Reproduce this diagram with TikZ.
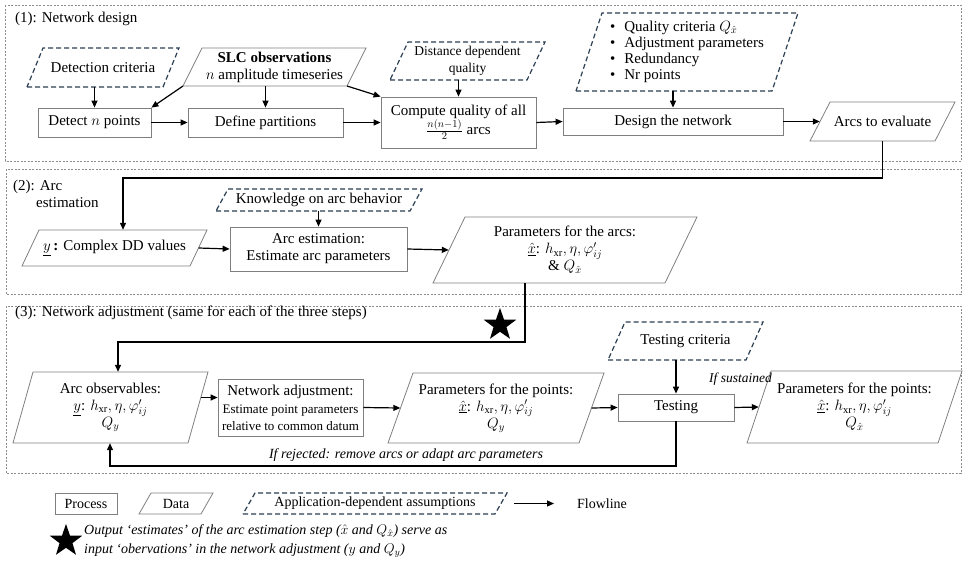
\documentclass[tikz,border=0pt]{standalone}
\usepackage{fix-cm}
\usepackage{fontspec}
\setmainfont{Liberation Serif}
\usetikzlibrary{arrows.meta,shapes.geometric}
\definecolor{dashblue}{HTML}{2B3F52}
\definecolor{boxgray}{HTML}{7F7F7F}
\definecolor{secgray}{HTML}{8C8C8C}
\tikzset{
  every node/.style={font=\fontsize{15}{17}\selectfont},
  procbox/.style={draw=boxgray,line width=0.8pt,inner sep=0pt,align=center},
  dataline/.style={draw=boxgray,line width=0.8pt},
  assumline/.style={draw=dashblue,line width=1.2pt,dash pattern=on 5pt off 3pt},
  secbox/.style={draw=secgray,line width=0.6pt,dash pattern=on 2pt off 1.5pt},
  flow/.style={-{Triangle[length=7pt,width=6pt]},line width=1.2pt},
  legtext/.style={font=\fontsize{14}{16}\selectfont},
  notetext/.style={font=\fontsize{14}{19}\selectfont\itshape},
  bigstar/.style={star,star points=5,star point ratio=2.5,fill=black,inner sep=0pt,minimum size=34pt},
}
\newcommand\mathlines{\fontsize{15}{20.5}\selectfont}
% #1 outline style, #2 name, #3 cx, #4 cy, #5 full width, #6 height, #7 slant, #8 text
\newcommand\paranode[8]{%
  \node[minimum width={#5-#7}, minimum height=#6, inner sep=0pt, align=center] (#2) at (#3,#4) {#8};
  \draw[#1] (#3-#5/2,#4+#6/2) coordinate (#2-bl) -- (#3+#5/2-#7,#4+#6/2) coordinate (#2-br)
    -- (#3+#5/2,#4-#6/2) coordinate (#2-tr) -- (#3-#5/2+#7,#4-#6/2) coordinate (#2-tl) -- cycle;
}
\begin{document}
\begin{tikzpicture}[x=1pt,y=-1pt]
\useasboundingbox (0,0) rectangle (966,573);
% section frames
\draw[secbox] (5,5) rectangle (961,161);
\draw[secbox] (6,169) rectangle (961,294);
\draw[secbox] (6,306) rectangle (961,473);
\node[anchor=west,inner sep=0pt] (t1) at (15,19) {(1): Network design};
\node[anchor=north west,inner sep=0pt,align=left] (t2) at (13,180) {(2): Arc\\\hspace*{23pt}estimation};
\node[anchor=west,inner sep=0pt] (t3) at (15,313) {(3): Network adjustment (same for each of the three steps)};

% ---------- section 1
\paranode{assumline}{detcrit}{103}{67.5}{152}{39}{16}{Detection criteria}
\paranode{dataline}{slc}{274.5}{67}{183}{38}{19}{\textbf{SLC observations}\\$n$ amplitude timeseries}
\paranode{assumline}{dist}{467.5}{61}{155}{38}{18}{\fontsize{13.5}{15}\selectfont Distance dependent\\\fontsize{13.5}{15}\selectfont quality}
\paranode{assumline}{qual}{687}{52}{222}{78}{26}{\begin{tabular}{@{}l@{\hspace{9pt}}l@{}}\textbullet & Quality criteria $Q_{\hat{x}}$\\[-1pt]\textbullet & Adjustment parameters\\[-1pt]\textbullet & Redundancy\\[-1pt]\textbullet & Nr points\end{tabular}}
\node[procbox,minimum width=113,minimum height=29] (detect) at (94.5,122.5) {Detect $n$ points};
\node[procbox,minimum width=155,minimum height=29] (define) at (265.5,122.5) {Define partitions};
\node[procbox,minimum width=155,minimum height=51] (compute) at (458.5,122.5) {Compute quality of all\\$\frac{n(n-1)}{2}$ arcs};
\node[procbox,minimum width=220,minimum height=27] (design) at (673,121.5) {Design the network};
\paranode{dataline}{arcs}{882.5}{121.5}{145}{39}{20}{Arcs to evaluate}

\draw[flow] (detcrit.south -| detect.north) -- (detect.north);
\draw[flow] (slc-bl) -- (detect.north east);
\draw[flow] (slc.south -| define.north) -- (define.north);
\draw[flow] (slc-br) -- (compute.north west);
\draw[flow] (dist.south -| compute.north) -- (compute.north);
\draw[flow] (qual.south -| design.north) -- (design.north);
\draw[flow] (detect.east) -- (define.west);
\draw[flow] (define.east) -- (compute.west);
\draw[flow] (compute.east) -- (design.west);
\draw[flow] (design.east) -- (arcs.west);

% ---------- section 2
\paranode{dataline}{ydd}{114.5}{248}{185}{36}{17}{$\underline{y}$\,\textbf{:} Complex DD values}
\paranode{assumline}{know}{319}{200}{206}{22}{12}{Knowledge on arc behavior}
\node[procbox,minimum width=177,minimum height=44] (arcest) at (318.5,249) {Arc estimation:\\Estimate arc parameters};
\paranode{dataline}{parc}{565}{250}{264}{66}{32}{\mathlines Parameters for the arcs:\\$\underline{\hat{x}}$: $h_{\mathrm{xr}},\eta,\varphi'_{ij}$\\\& $Q_{\hat{x}}$}
\coordinate (fb1) at (123,178);
\draw[flow] (arcs.south) |- (fb1) -- (fb1 |- ydd.north);
\draw[flow] (know.south -| arcest.north) -- (arcest.north);
\draw[flow] (ydd.east) -- (arcest.west);
\draw[flow] (arcest.east) -- (parc.west);

% ---------- section 3
\paranode{dataline}{arcobs}{110.5}{407.5}{195}{71}{20}{\mathlines Arc observables:\\$\underline{y}$: $h_{\mathrm{xr}},\eta,\varphi'_{ij}$\\$Q_y$}
\node[procbox,minimum width=145,minimum height=57] (na) at (290.5,407.5) {Network adjustment:\\[1pt]\fontsize{13}{15}\selectfont Estimate point parameters\\\fontsize{13}{15}\selectfont relative to common datum};
\paranode{dataline}{ppts}{496}{408}{216}{70}{25}{\mathlines Parameters for the points:\\$\underline{\hat{x}}$: $h_{\mathrm{xr}},\eta,\varphi'_{ij}$\\$Q_y$}
\paranode{assumline}{testcrit}{685.5}{341}{155}{38}{17}{Testing criteria}
\node[procbox,minimum width=116,minimum height=27] (testing) at (676,407.5) {Testing};
\paranode{dataline}{pfinal}{854.5}{407}{215}{72}{24}{\mathlines Parameters for the points:\\$\underline{\hat{x}}$: $h_{\mathrm{xr}},\eta,\varphi'_{ij}$\\$Q_{\hat{x}}$}

\coordinate (fb2) at (525,342);
\coordinate (fb2b) at (118,342);
\draw[flow] (fb2 |- parc.south) -- (fb2) -- (fb2b) -- (fb2b |- arcobs.north);
\node[bigstar] (star1) at (500,325) {};
\draw[flow] ([shift={(2.8pt,10pt)}]arcobs.east) -- ([yshift=10pt]na.west);
\draw[flow] (na.east) -- (ppts.west);
\draw[flow] (ppts.east) -- (testing.west);
\draw[flow] (testcrit.south -| testing.north) -- (testing.north);
\draw[flow] (testing.east) -- (pfinal.west);
\node[font=\fontsize{13.5}{15}\selectfont\itshape,anchor=east,inner sep=0pt] (sust) at (772,379) {If sustained};
\coordinate (fb3) at (110,466);
\draw[flow] (testing.south) |- (fb3) -- (fb3 |- arcobs.south);
\node[notetext,inner sep=0pt] (rej) at (406,455) {If rejected: remove arcs or adapt arc parameters};

% ---------- legend
\node[procbox,legtext,minimum width=62,minimum height=21] (lproc) at (86,503.5) {Process};
\paranode{dataline}{ldata}{176}{503.5}{74}{21}{12}{\fontsize{14}{16}\selectfont Data}
\paranode{assumline}{lassum}{375}{503.5}{264}{21}{12}{\fontsize{14}{16}\selectfont Application-dependent assumptions}
\coordinate (lflow1) at (514,503.5);
\coordinate (lflow2) at (554,503.5);
\draw[flow] (lflow1) -- (lflow2);
\node[legtext] (lflowtxt) at (602,503.5) {Flowline};
\node[bigstar] (star2) at (66,541) {};
\node[notetext,anchor=west,align=left,inner sep=0pt] (note) at (84,541) {Output ‘estimates’ of the arc estimation step ($\hat{x}$ and $Q_{\hat{x}}$) serve as\\input ‘obervations’ in the network adjustment ($y$ and $Q_y$)};
\end{tikzpicture}
\end{document}
